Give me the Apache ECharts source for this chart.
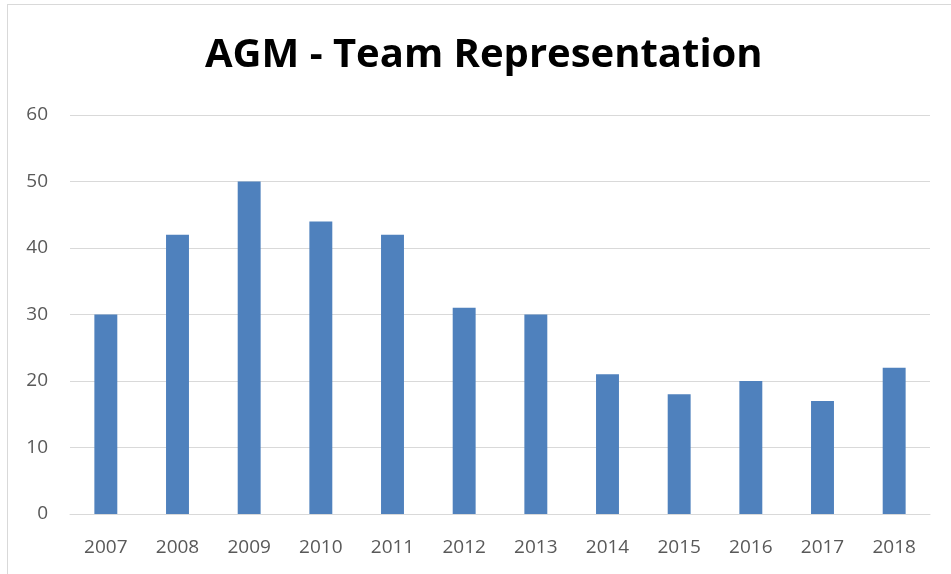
<!DOCTYPE html>
<html>
<head>
<meta charset="utf-8">
<script src="https://cdn.jsdelivr.net/npm/echarts@6/dist/echarts.min.js"></script>
<style>
    html, body { margin: 0; padding: 0; background: #fff; }
    #frame { position: absolute; left: 7px; top: 4px; width: 960px; height: 580px; border: 1px solid #d9d9d9; box-sizing: border-box; }
    #main { position: absolute; left: 0; top: 0; width: 951px; height: 574px; }
</style>
</head>
<body>
<div id="frame"></div>
<div id="main"></div>
<script>
var years = ['2007', '2008', '2009', '2010', '2011', '2012', '2013', '2014', '2015', '2016', '2017', '2018'];
var members = [30, 42, 50, 44, 42, 31, 30, 21, 18, 20, 17, 22];
var yTicks = { min: 0, max: 60, interval: 10 };

var myChart = echarts.init(document.getElementById('main'));
var option = {
    animation: false,
    title: {
        text: 'AGM - Team Representation',
        left: 200,
        top: 31,
        textStyle: {
            fontFamily: 'Open Sans',
            fontWeight: 'bold',
            fontSize: 40,
            color: '#000'
        }
    },
    grid: {
        left: 70,
        right: 21,
        top: 115,
        bottom: 60
    },
    xAxis: {
        type: 'category',
        data: years,
        axisLine: { lineStyle: { color: '#d9d9d9', width: 1 } },
        axisTick: { show: false },
        axisLabel: {
            color: '#595959',
            fontFamily: 'Open Sans',
            fontSize: 19,
            margin: 24
        }
    },
    yAxis: {
        type: 'value',
        min: yTicks.min,
        max: yTicks.max,
        interval: yTicks.interval,
        axisLine: { show: false },
        axisTick: { show: false },
        axisLabel: {
            color: '#595959',
            fontFamily: 'Open Sans',
            fontSize: 19,
            margin: 22
        },
        splitLine: { lineStyle: { color: '#d9d9d9', width: 1 } }
    },
    series: [{
        name: 'Representation',
        type: 'bar',
        data: members,
        barWidth: '32%',
        itemStyle: { color: '#4f81bd' }
    }]
};
myChart.setOption(option, true);
</script>
</body>
</html>
